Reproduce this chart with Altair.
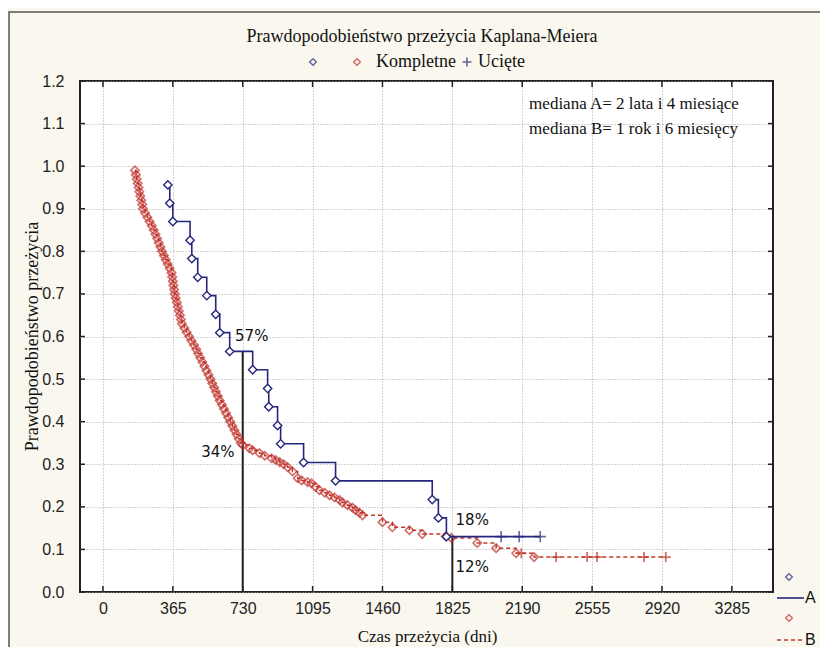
import altair as alt
import pandas as pd

W, H = 693, 511

# ---------------- data ----------------
x_ticks = [0, 365, 730, 1095, 1460, 1825, 2190, 2555, 2920, 3285]
y_ticks = [0.0, 0.1, 0.2, 0.3, 0.4, 0.5, 0.6, 0.7, 0.8, 0.9, 1.0, 1.1, 1.2]

# group A (complete events)
a_days = [339, 349, 365, 455, 464, 495, 542, 589, 610, 662, 782, 860, 866,
          912, 928, 1048, 1215, 1720, 1752, 1794]
a_surv = [0.956, 0.913, 0.870, 0.826, 0.783, 0.739, 0.696, 0.652, 0.609, 0.565,
          0.522, 0.478, 0.435, 0.391, 0.348, 0.304, 0.261, 0.217, 0.174, 0.130]
# group A (censored)
a_cens_days = [2080, 2174, 2284]
a_cens_surv = [0.130, 0.130, 0.130]

# group B (complete events)
b_days = [167, 172, 176, 181, 186, 190, 195, 200, 205, 209,
          220, 232, 243, 255, 265, 274, 283, 291, 300, 308,
          318, 328, 338, 348, 358, 362, 365, 368, 372, 375,
          380, 386, 391, 396, 402, 407, 412, 425, 437, 450,
          462, 475, 487, 497, 508, 519, 530, 540, 551, 561,
          571, 581, 590, 600, 610, 621, 632, 643, 654, 665,
          676, 687, 698, 709, 720, 730,
          766, 782, 818, 845, 881, 902, 923, 944, 965, 990,
          1017, 1038, 1069, 1090, 1110, 1131, 1158, 1184, 1210, 1236,
          1251, 1277, 1303, 1320, 1340, 1356, 1460, 1512, 1601, 1668,
          1790, 1820, 1955, 2054, 2158, 2252]
b_surv = [0.99, 0.98, 0.97, 0.96, 0.95, 0.94, 0.93, 0.92, 0.91, 0.90,
          0.89, 0.88, 0.87, 0.86, 0.85, 0.84, 0.83, 0.82, 0.81, 0.80,
          0.79, 0.78, 0.77, 0.76, 0.75, 0.74, 0.73, 0.72, 0.71, 0.70,
          0.69, 0.68, 0.67, 0.66, 0.65, 0.64, 0.63, 0.62, 0.61, 0.60,
          0.59, 0.58, 0.57, 0.56, 0.55, 0.54, 0.53, 0.52, 0.51, 0.50,
          0.49, 0.48, 0.47, 0.46, 0.45, 0.44, 0.43, 0.42, 0.41, 0.40,
          0.39, 0.38, 0.37, 0.36, 0.35, 0.345,
          0.337, 0.333, 0.326, 0.320, 0.314, 0.310, 0.305, 0.300, 0.293, 0.283,
          0.267, 0.262, 0.258, 0.255, 0.247, 0.239, 0.233, 0.227, 0.222, 0.216,
          0.210, 0.204, 0.198, 0.192, 0.186, 0.180, 0.164, 0.152, 0.145, 0.136,
          0.131, 0.127, 0.115, 0.103, 0.091, 0.082]
# group B (censored)
b_cens_days = [2185, 2367, 2529, 2581, 2826, 2940]
b_cens_surv = [0.091, 0.082, 0.082, 0.082, 0.082, 0.082]

# median markers
median_days = [730, 1825]
median_top = [0.565, 0.130]

pct_labels = ["57%", "34%", "18%", "12%"]
pct_days = [777, 600, 1929, 1929]
pct_surv = [0.602, 0.328, 0.169, 0.059]

note_lines = ["mediana A= 2 lata i 4 miesiące", "mediana B= 1 rok i 6 miesięcy"]
note_day = 2226
note_surv = [1.146, 1.087]

title_text = "Prawdopodobieństwo przeżycia Kaplana-Meiera"

# ---------------- styles ----------------
NAVY = "#26267f"
RED = "#c0392b"
RED_MK = "#c0302a"
SERIF = "Liberation Serif"
SANS = "Liberation Sans"
PLUS = "M-1,0L1,0M0,-1L0,1"

xs = alt.Scale(domain=[-120, 3500], nice=False, zero=False)
ys = alt.Scale(domain=[0, 1.2], nice=False, zero=False)

df_a = pd.DataFrame({"day": a_days, "surv": a_surv})
df_ac = pd.DataFrame({"day": a_cens_days, "surv": a_cens_surv})
df_a_line = pd.concat([df_a, df_ac]).sort_values("day")
df_b = pd.DataFrame({"day": b_days, "surv": b_surv})
df_bc = pd.DataFrame({"day": b_cens_days, "surv": b_cens_surv})
df_b_line = pd.concat([df_b, df_bc]).sort_values("day")
df_med = pd.DataFrame({"day": median_days, "top": median_top, "zero": [0, 0]})
df_pct = pd.DataFrame({"lab": pct_labels, "day": pct_days, "surv": pct_surv})
df_note = pd.DataFrame({"lab": note_lines, "day": [note_day] * 2, "surv": note_surv})
df_xt = pd.DataFrame({"t": x_ticks})
df_yt = pd.DataFrame({"t": y_ticks})
one = alt.Data(values=[{"k": 1}])

x_axis = alt.Axis(values=x_ticks, format="d", grid=True, gridDash=[1, 2],
                  gridColor="#a8a8a8", ticks=False, domain=False, labelFont=SANS,
                  labelFontSize=16, labelColor="#222", labelPadding=8,
                  title="Czas przeżycia (dni)", titleFont=SERIF, titleFontSize=17,
                  titleFontWeight="normal", titleColor="#111",
                  titleX=347, titleY=44, titleBaseline="middle")
y_axis = alt.Axis(values=y_ticks, format=".1f", grid=True, gridDash=[1, 2],
                  gridColor="#a8a8a8", ticks=False, domain=False, labelFont=SANS,
                  labelFontSize=16, labelColor="#222", labelPadding=16,
                  title="Prawdopodobieństwo przeżycia", titleFont=SERIF,
                  titleFontSize=18, titleFontWeight="normal", titleColor="#111",
                  titleX=-48, titleY=255, titleAngle=270, titleBaseline="middle")

base_axes = alt.Chart(df_xt).mark_rule(opacity=0).encode(
    x=alt.X("t:Q", scale=xs, axis=x_axis),
    y=alt.value(0), y2=alt.value(1))
y_axes = alt.Chart(df_yt).mark_rule(opacity=0).encode(
    y=alt.Y("t:Q", scale=ys, axis=y_axis),
    x=alt.value(0), x2=alt.value(1))

outer = alt.Chart(one).mark_rect(fillOpacity=0, stroke="#555", strokeWidth=1.5).encode(
    x=alt.value(-71), x2=alt.value(W + 60), y=alt.value(-69), y2=alt.value(H + 70))

tick_b = alt.Chart(df_xt).mark_rule(color="#222", strokeWidth=1.5).encode(
    x=alt.X("t:Q", scale=xs), y=alt.value(H), y2=alt.value(H - 6))
tick_t = alt.Chart(df_xt).mark_rule(color="#222", strokeWidth=1.5).encode(
    x=alt.X("t:Q", scale=xs), y=alt.value(0), y2=alt.value(6))
tick_l = alt.Chart(df_yt).mark_rule(color="#222", strokeWidth=1.5).encode(
    y=alt.Y("t:Q", scale=ys), x=alt.value(0), x2=alt.value(5))
tick_r = alt.Chart(df_yt).mark_rule(color="#222", strokeWidth=1.5).encode(
    y=alt.Y("t:Q", scale=ys), x=alt.value(W), x2=alt.value(W - 5))

med = alt.Chart(df_med).mark_rule(color="#222", strokeWidth=2).encode(
    x=alt.X("day:Q", scale=xs), y=alt.Y("top:Q", scale=ys), y2="zero:Q")

b_line = alt.Chart(df_b_line).mark_line(interpolate="step-after", color=RED,
                                         strokeWidth=1.5, strokeDash=[4, 3]).encode(
    x=alt.X("day:Q", scale=xs), y=alt.Y("surv:Q", scale=ys))
b_pts = alt.Chart(df_b).mark_point(shape="diamond", size=70, filled=False,
                                   color=RED_MK, strokeWidth=1.6).encode(
    x=alt.X("day:Q", scale=xs), y=alt.Y("surv:Q", scale=ys))
b_cens = alt.Chart(df_bc).mark_point(shape=PLUS, size=100, filled=False,
                                     color=RED, strokeWidth=1.8).encode(
    x=alt.X("day:Q", scale=xs), y=alt.Y("surv:Q", scale=ys))

a_line = alt.Chart(df_a_line).mark_line(interpolate="step-after", color=NAVY,
                                         strokeWidth=1.6).encode(
    x=alt.X("day:Q", scale=xs), y=alt.Y("surv:Q", scale=ys))
a_pts = alt.Chart(df_a).mark_point(shape="diamond", size=70, filled=True, fill="white",
                                   stroke=NAVY, strokeWidth=1.4, opacity=1).encode(
    x=alt.X("day:Q", scale=xs), y=alt.Y("surv:Q", scale=ys))
a_cens = alt.Chart(df_ac).mark_point(shape=PLUS, size=130, filled=False,
                                     color=NAVY, strokeWidth=1.6).encode(
    x=alt.X("day:Q", scale=xs), y=alt.Y("surv:Q", scale=ys))

pct = alt.Chart(df_pct).mark_text(font="DejaVu Sans", fontSize=15, color="#111").encode(
    x=alt.X("day:Q", scale=xs), y=alt.Y("surv:Q", scale=ys), text="lab:N")
notes = alt.Chart(df_note).mark_text(font=SERIF, fontSize=17, color="#111",
                                     align="left").encode(
    x=alt.X("day:Q", scale=xs), y=alt.Y("surv:Q", scale=ys), text="lab:N")

# title and top legend
title = alt.Chart(one).mark_text(text=title_text, font=SERIF, fontSize=18,
                                 color="#111").encode(x=alt.value(342), y=alt.value(-44))
leg_d1 = alt.Chart(one).mark_point(shape="diamond", size=45, filled=False, color=NAVY,
                                   strokeWidth=1.4).encode(x=alt.value(233), y=alt.value(-19))
leg_d2 = alt.Chart(one).mark_point(shape="diamond", size=45, filled=False, color=RED_MK,
                                   strokeWidth=1.4).encode(x=alt.value(277), y=alt.value(-19))
leg_t1 = alt.Chart(one).mark_text(text="Kompletne", font=SERIF, fontSize=18, align="left",
                                  color="#111").encode(x=alt.value(296), y=alt.value(-19))
leg_p = alt.Chart(one).mark_point(shape=PLUS, size=80, filled=False, color=NAVY,
                                  strokeWidth=1.6).encode(x=alt.value(387), y=alt.value(-19))
leg_t2 = alt.Chart(one).mark_text(text="Ucięte", font=SERIF, fontSize=18, align="left",
                                  color="#111").encode(x=alt.value(398), y=alt.value(-19))

# right legend
r_d1 = alt.Chart(one).mark_point(shape="diamond", size=45, filled=False, color=NAVY,
                                 strokeWidth=1.4).encode(x=alt.value(709), y=alt.value(496))
r_l1 = alt.Chart(one).mark_rule(color=NAVY, strokeWidth=1.6).encode(
    x=alt.value(697), x2=alt.value(724), y=alt.value(517))
r_t1 = alt.Chart(one).mark_text(text="A", font=SANS, fontSize=16, align="left",
                                color="#111").encode(x=alt.value(725), y=alt.value(517))
r_d2 = alt.Chart(one).mark_point(shape="diamond", size=45, filled=False, color=RED_MK,
                                 strokeWidth=1.4).encode(x=alt.value(709), y=alt.value(537))
r_l2 = alt.Chart(one).mark_rule(color=RED, strokeWidth=1.6, strokeDash=[4, 3]).encode(
    x=alt.value(697), x2=alt.value(724), y=alt.value(559))
r_t2 = alt.Chart(one).mark_text(text="B", font=SANS, fontSize=16, align="left",
                                color="#111").encode(x=alt.value(725), y=alt.value(559))

chart = alt.layer(
    outer, base_axes, y_axes, tick_b, tick_t, tick_l, tick_r, med,
    b_line, b_pts, b_cens, a_line, a_pts, a_cens, pct, notes,
    title, leg_d1, leg_d2, leg_t1, leg_p, leg_t2,
    r_d1, r_l1, r_t1, r_d2, r_l2, r_t2,
).properties(
    width=W, height=H,
    padding={"left": 72, "top": 73, "right": 47, "bottom": 55},
    autosize=alt.AutoSizeParams(type="none"),
).configure(background="#f9f7ee").configure_view(
    fill="white", stroke="#222", strokeWidth=2
)

chart.save("out.html", embed_options={"renderer": "svg", "actions": False})
